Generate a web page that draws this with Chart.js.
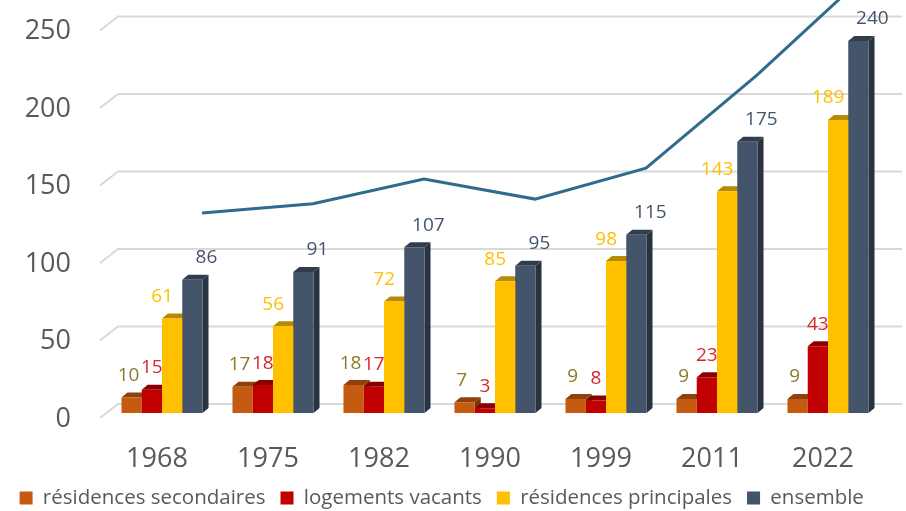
<!DOCTYPE html>
<html>
<head>
<meta charset="utf-8">
<script src="https://cdn.jsdelivr.net/npm/chart.js@4.4.1/dist/chart.umd.min.js"></script>
<style>
  html, body { margin: 0; padding: 0; background: #fff; }
  #wrap { width: 906px; height: 511px; position: relative; }
</style>
</head>
<body>
<div id="wrap"><canvas id="logements"></canvas></div>
<script>
// recensements
var annees = ['1968', '1975', '1982', '1990', '1999', '2011', '2022'];

// nombre de logements par catégorie
var secondaires = [10, 17, 18, 7, 9, 9, 9];
var vacants = [15, 18, 17, 3, 8, 23, 43];
var principales = [61, 56, 72, 85, 98, 143, 189];
var ensemble = [86, 91, 107, 95, 115, 175, 240];

var evolution = [129, 135, 151, 138, 158, 218, 284];

var graduations = [0, 50, 100, 150, 200, 250];

var couleurs = ['#C55A11', '#C00000', '#FFC000', '#44546A'];
var couleursEtiquettes = ['#8C7A2C', '#D9262B', '#FFC000', '#44546A'];
var decalageEtiquettes = [-3, 0, -10, 14];
var decalageCourbe = 0.36; // la courbe est tracée sur le plan du fond
var police = '"Open Sans", "Liberation Sans", sans-serif';

var prof = { dx: 6, dy: 5 };

function assombrir(hex, f) {
    var n = parseInt(hex.slice(1), 16);
    var r = Math.round(((n >> 16) & 255) * f);
    var g = Math.round(((n >> 8) & 255) * f);
    var b = Math.round((n & 255) * f);
    return 'rgb(' + r + ',' + g + ',' + b + ')';
}

// quadrillage en perspective + faces dessus / côté des barres
var relief = {
    id: 'relief',
    beforeDatasetsDraw: function (chart) {
        var ctx = chart.ctx, area = chart.chartArea, sy = chart.scales.y;
        ctx.save();
        ctx.strokeStyle = '#D9D9D9';
        ctx.lineWidth = 2;
        sy.ticks.forEach(function (t) {
            var py = sy.getPixelForValue(t.value);
            ctx.beginPath();
            ctx.moveTo(area.left - 6.5, py + 5);
            ctx.lineTo(area.left + 11.5, py - 9);
            ctx.lineTo(chart.width - 4, py - 9);
            ctx.stroke();
        });
        chart.data.datasets.forEach(function (ds, i) {
            if (ds.type === 'line') return;
            chart.getDatasetMeta(i).data.forEach(function (bar) {
                var l = bar.x - bar.width / 2, r = bar.x + bar.width / 2;
                var top = bar.y, base = bar.base;
                ctx.fillStyle = assombrir(ds.backgroundColor, 0.72);
                ctx.beginPath();
                ctx.moveTo(l, top);
                ctx.lineTo(l + prof.dx, top - prof.dy);
                ctx.lineTo(r + prof.dx, top - prof.dy);
                ctx.lineTo(r, top);
                ctx.closePath();
                ctx.fill();
                ctx.fillStyle = assombrir(ds.backgroundColor, 0.6);
                ctx.beginPath();
                ctx.moveTo(r, top);
                ctx.lineTo(r + prof.dx, top - prof.dy);
                ctx.lineTo(r + prof.dx, base - prof.dy);
                ctx.lineTo(r, base);
                ctx.closePath();
                ctx.fill();
            });
        });
        ctx.restore();
    },
    afterDatasetsDraw: function (chart) {
        var ctx = chart.ctx;
        ctx.save();
        ctx.font = '19px ' + police;
        ctx.textAlign = 'center';
        ctx.textBaseline = 'middle';
        chart.data.datasets.forEach(function (ds, i) {
            if (ds.type === 'line') return;
            ctx.fillStyle = couleursEtiquettes[i];
            chart.getDatasetMeta(i).data.forEach(function (bar, j) {
                ctx.fillText(String(ds.data[j].y), bar.x + decalageEtiquettes[i], bar.y - 22);
            });
        });
        ctx.restore();
    }
};

function barres(label, valeurs, i) {
    return {
        label: label,
        data: valeurs.map(function (v, j) { return { x: j, y: v }; }),
        stack: 'g' + i,
        backgroundColor: couleurs[i],
        borderWidth: 0,
        categoryPercentage: 0.73,
        barPercentage: 1.0,
        order: 1
    };
}

new Chart(document.getElementById('logements'), {
    type: 'bar',
    data: {
        datasets: [
            barres('résidences secondaires', secondaires, 0),
            barres('logements vacants', vacants, 1),
            barres('résidences principales', principales, 2),
            barres('ensemble', ensemble, 3),
            {
                type: 'line',
                label: 'évolution',
                data: evolution.map(function (v, i) { return { x: i + decalageCourbe, y: v }; }),
                borderColor: '#2F6B8E',
                borderWidth: 3,
                pointRadius: 0,
                tension: 0,
                clip: false,
                order: 0
            }
        ]
    },
    options: {
        responsive: true,
        maintainAspectRatio: false,
        animation: false,
        layout: { padding: { left: 0, right: 22.5, top: 25.5, bottom: -7.25 } },
        plugins: {
            tooltip: { enabled: false },
            legend: {
                position: 'bottom',
                labels: {
                    filter: function (item) { return item.datasetIndex < 4; },
                    boxWidth: 13,
                    boxHeight: 13,
                    padding: 15,
                    color: '#595959',
                    font: { family: police, size: 20.5 }
                }
            }
        },
        scales: {
            x: {
                type: 'linear',
                min: -0.5,
                max: 6.5,
                offset: false,
                afterBuildTicks: function (s) {
                    s.ticks = annees.map(function (a, i) { return { value: i }; });
                },
                grid: { display: false },
                border: { display: false },
                ticks: {
                    color: '#595959',
                    font: { family: police, size: 27 },
                    padding: 22,
                    labelOffset: -5,
                    callback: function (v) { return annees[v]; }
                },
                afterFit: function (s) { s.height = 59.75; }
            },
            y: {
                min: 0,
                max: 250,
                afterBuildTicks: function (s) {
                    s.ticks = graduations.map(function (v) { return { value: v }; });
                },
                grid: { display: false, tickLength: 27.5 },
                border: { display: false },
                ticks: {
                    color: '#595959',
                    font: { family: police, size: 27 },
                    padding: 8,
                    labelOffset: 6
                },
                afterFit: function (s) { s.width = 106.5; }
            }
        }
    },
    plugins: [relief]
});
</script>
</body>
</html>
